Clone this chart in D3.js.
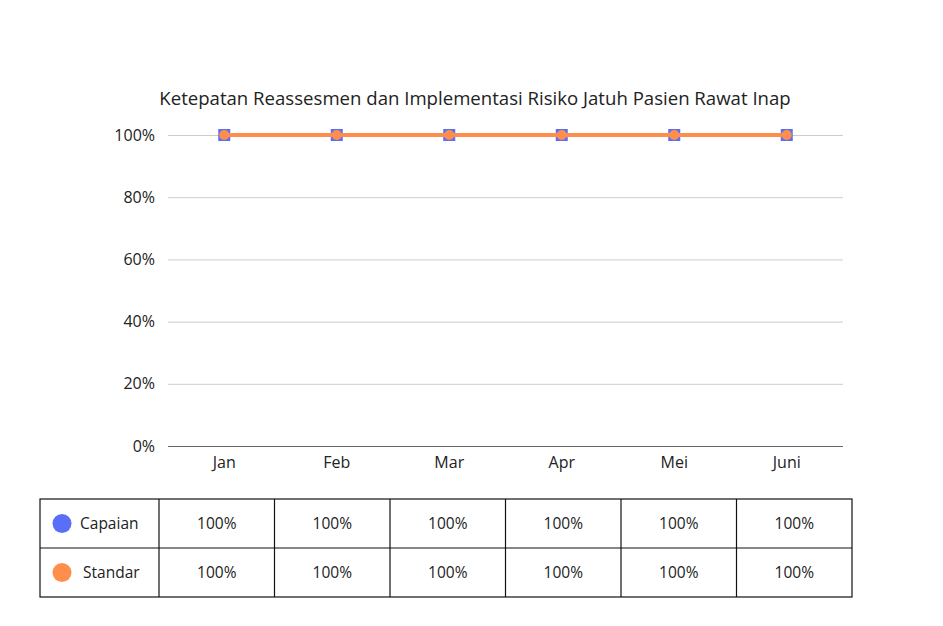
<!DOCTYPE html>
<html><head><meta charset="utf-8">
<script src="https://cdn.jsdelivr.net/npm/d3@7/dist/d3.min.js"></script>
<style>body{margin:0;background:#fff;font-family:"Open Sans",sans-serif;}</style>
</head><body><svg id="c" width="943" height="626"></svg>
<script>
const title = "Ketepatan Reassesmen dan Implementasi Risiko Jatuh Pasien Rawat Inap";
const months = ["Jan","Feb","Mar","Apr","Mei","Juni"];
const capaian = [100,100,100,100,100,100];
const standar = [100,100,100,100,100,100];
const yTicks = [0,20,40,60,80,100];
const seriesNames = ["Capaian","Standar"];
const colors = ["#5a6ff7","#ff8e4d"];

const svg = d3.select("#c");
const L=168,R=843,T=135,B=446;
const x = d3.scaleBand().domain(months).range([L,R]);
const y = d3.scaleLinear().domain([0,100]).range([B,T]);
const font = "'Open Sans',sans-serif";

svg.append("text").attr("x",475).attr("y",105).attr("text-anchor","middle")
  .style("font-family",font).style("font-size","18.6px").attr("fill","#222").text(title);

const yAxis = svg.append("g").attr("transform",`translate(${L},0)`)
  .call(d3.axisLeft(y).tickValues(yTicks).tickSize(-(R-L)).tickFormat(d=>d+"%"));
yAxis.select(".domain").remove();
yAxis.selectAll(".tick line").attr("stroke",d=>d===0?"#666":"#ccc");
yAxis.selectAll(".tick text").attr("x",-13).style("font-family",font).style("font-size","16px").attr("fill","#222");

const xAxis = svg.append("g").attr("transform",`translate(0,${B})`)
  .call(d3.axisBottom(x).tickSize(0));
xAxis.select(".domain").remove();
xAxis.selectAll(".tick text").attr("dy","1.1em").attr("y",4).style("font-family",font).style("font-size","16px").attr("fill","#222");

const cx = d=>x(d)+x.bandwidth()/2;
const line = d3.line().x((d,i)=>cx(months[i])).y(d=>y(d));
svg.append("path").datum(capaian).attr("d",line).attr("fill","none").attr("stroke",colors[0]).attr("stroke-width",4);
svg.selectAll(".sq").data(capaian).join("rect")
  .attr("x",(d,i)=>cx(months[i])-6).attr("y",d=>y(d)-6).attr("width",12).attr("height",12).attr("fill",colors[0]);
svg.append("path").datum(standar).attr("d",line).attr("fill","none").attr("stroke",colors[1]).attr("stroke-width",4);
svg.selectAll(".ci").data(standar).join("circle")
  .attr("cx",(d,i)=>cx(months[i])).attr("cy",d=>y(d)).attr("r",5).attr("fill",colors[1]);

// table
const tL=40, c0=159, tT=499, rh=49, tR=852;
const cw = (tR-c0)/months.length;
const colEdges = d3.range(months.length+1).map(i=>c0+i*cw);
const tbl = svg.append("g");
const rows = [capaian, standar];
tbl.append("rect").attr("x",tL).attr("y",tT).attr("width",tR-tL).attr("height",rh*2).attr("fill","none").attr("stroke","#111").attr("stroke-width",1.2);
tbl.append("line").attr("x1",tL).attr("x2",tR).attr("y1",tT+rh).attr("y2",tT+rh).attr("stroke","#111").attr("stroke-width",1.2);
colEdges.slice(0,-1).forEach(e=>tbl.append("line").attr("x1",e).attr("x2",e).attr("y1",tT).attr("y2",tT+rh*2).attr("stroke","#111").attr("stroke-width",1.2));
rows.forEach((vals,r)=>{
  const cy = tT+rh*r+rh/2;
  tbl.append("circle").attr("cx",62).attr("cy",cy).attr("r",9.5).attr("fill",colors[r]);
  tbl.append("text").attr("x",r===0?80:83).attr("y",cy).attr("dy","0.35em").style("font-family",font).style("font-size","15.5px").attr("fill","#222").text(seriesNames[r]);
  vals.forEach((v,i)=>{
    tbl.append("text").attr("x",colEdges[i]+cw/2).attr("y",cy).attr("dy","0.35em").attr("text-anchor","middle")
      .style("font-family",font).style("font-size","15.5px").attr("fill","#222").text(v+"%");
  });
});
</script></body></html>
